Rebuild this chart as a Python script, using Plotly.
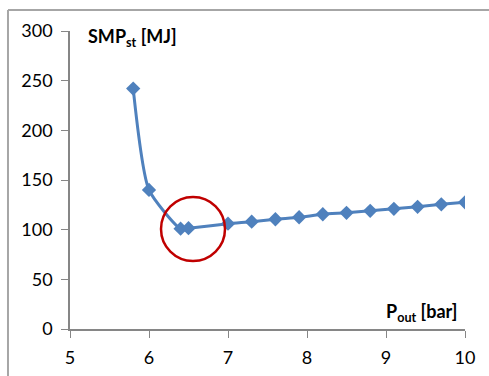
import plotly.graph_objects as go

p_out = [5.8, 6.0, 6.4, 6.5, 7.0, 7.3, 7.6, 7.9, 8.2, 8.5, 8.8, 9.1, 9.4, 9.7, 10.0]
smp_st = [242, 140, 101, 101.5, 106, 108, 110.5, 112.5, 115.5, 117, 119, 121, 123, 125.5, 127.5]
x_ticks = [5, 6, 7, 8, 9, 10]
y_ticks = [0, 50, 100, 150, 200, 250, 300]
circle_center = (6.557, 100.7)
circle_r = (0.405, 32.2)

FONT = "Lato, 'Open Sans', sans-serif"
AXC = "#868686"

fig = go.Figure()
fig.add_trace(go.Scatter(
    x=p_out, y=smp_st, mode="lines+markers",
    line=dict(color="#4F81BD", width=3, shape="spline", smoothing=0.6),
    marker=dict(symbol="diamond", size=11, color="#4F81BD"),
    showlegend=False, hoverinfo="skip"))

fig.add_shape(type="circle", xref="x", yref="y",
              x0=circle_center[0] - circle_r[0], x1=circle_center[0] + circle_r[0],
              y0=circle_center[1] - circle_r[1], y1=circle_center[1] + circle_r[1],
              line=dict(color="#C00000", width=2.5))

# outer chart frame (top and left edges visible)
fig.add_shape(type="line", xref="paper", yref="paper", x0=-0.157, x1=1.2, y0=1.0704, y1=1.0704,
              line=dict(color="#A6A6A6", width=2))
fig.add_shape(type="line", xref="paper", yref="paper", x0=-0.157, x1=-0.157, y0=-0.3, y1=1.0704,
              line=dict(color="#A6A6A6", width=2))

fig.add_annotation(text="<b>SMP<sub>st</sub> [MJ]</b>", xref="paper", yref="paper",
                   x=(86 - 70.3) / 394.7, y=(329.5 - 38) / 298.5, xanchor="left", yanchor="middle",
                   showarrow=False, font=dict(family=FONT, size=18, color="black"))
fig.add_annotation(text="<b>P<sub>out</sub> [bar]</b>", xref="paper", yref="paper",
                   x=(459 - 70.3) / 394.7, y=(329.5 - 313) / 298.5, xanchor="right", yanchor="middle",
                   showarrow=False, font=dict(family=FONT, size=18, color="black"))

fig.update_xaxes(range=[5, 10], tickvals=x_ticks, showgrid=False, zeroline=False,
                 showline=True, linecolor=AXC, linewidth=1.5, ticks="outside", ticklen=7,
                 tickcolor=AXC, ticklabelstandoff=5, automargin=False,
                 tickfont=dict(family=FONT, size=18, color="black"))
fig.update_yaxes(range=[0, 300], tickvals=y_ticks, showgrid=False, zeroline=False,
                 showline=True, linecolor=AXC, linewidth=1.5, ticks="outside", ticklen=7,
                 tickcolor=AXC, ticklabelstandoff=5, automargin=False,
                 tickfont=dict(family=FONT, size=18, color="black"))

fig.update_layout(width=489, height=376, margin=dict(l=70, r=24, t=31, b=47),
                  plot_bgcolor="white", paper_bgcolor="white")

fig.write_html("out.html")
